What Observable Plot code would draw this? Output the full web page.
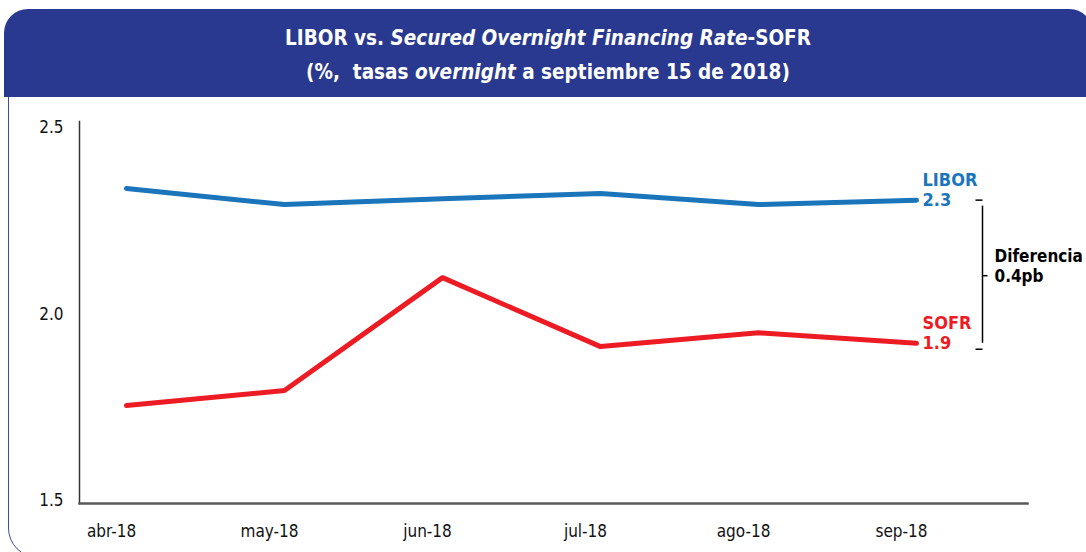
<!DOCTYPE html>
<html><head><meta charset="utf-8">
<script src="https://cdn.jsdelivr.net/npm/d3@7"></script>
<script src="https://cdn.jsdelivr.net/npm/@observablehq/plot@0.6"></script>
<style>
html,body{margin:0;padding:0;background:#fff;}
body{width:1086px;height:552px;overflow:hidden;position:relative;font-family:"DejaVu Sans Condensed","DejaVu Sans",sans-serif;}
#panel{position:absolute;left:8px;top:90px;width:1100px;height:468px;border:1.5px solid #3b4ba1;border-radius:0 0 0 30px;box-sizing:border-box;}
#header{position:absolute;left:4px;top:9px;width:1088px;height:88px;background:#29398f;border-radius:24px 22px 0 0;color:#fff;text-align:center;font-weight:bold;font-size:20.5px;line-height:34px;box-sizing:border-box;padding-top:12px;}
#chart{position:absolute;left:0;top:97px;}
</style></head>
<body>
<div id="panel"></div>
<div id="header">LIBOR vs. <i>Secured Overnight Financing Rate</i>-SOFR<br>(%,&nbsp; tasas <i>overnight</i> a septiembre 15 de 2018)</div>
<div id="chart"></div>
<script>
const months = ["abr-18","may-18","jun-18","jul-18","ago-18","sep-18"];
const libor = [2.345, 2.302, 2.318, 2.332, 2.302, 2.314];
const sofr  = [1.763, 1.803, 2.106, 1.921, 1.958, 1.930];
const seriesNames = ["LIBOR", "SOFR"];
const seriesColors = ["#1b75bb", "#ed1c24"];
const yTicks = [1.5, 2.0, 2.5];

const rows = months.flatMap((m, i) => [
  {month: m, serie: "LIBOR", v: libor[i]},
  {month: m, serie: "SOFR", v: sofr[i]}
]);
const last = months.length - 1;
const lastL = {month: months[last], v: libor[last]};
const lastS = {month: months[last], v: sofr[last]};
const mid = {month: months[last], v: (libor[last] + sofr[last]) / 2, d: libor[last] - sofr[last]};
const f1 = d3.format(".1f");
const font = '"DejaVu Sans Condensed","DejaVu Sans",sans-serif';

const armLeft = {draw(ctx){ ctx.moveTo(0,0); ctx.lineTo(-7,0); }};
const armRight = {draw(ctx){ ctx.moveTo(0,0); ctx.lineTo(5,0); }};

const chart = Plot.plot({
  width: 1086, height: 455,
  marginLeft: 79, marginRight: 59, marginTop: 24, marginBottom: 49,
  style: {fontFamily: font, fontSize: "17px", color: "#111", background: "transparent", overflow: "visible"},
  x: {type: "point", domain: months, range: [125, 916], padding: 0, label: null},
  y: {domain: [1.5, 2.525], label: null},
  color: {domain: seriesNames, range: seriesColors},
  marks: [
    Plot.axisX({tickSize: 0, tickPadding: 21, dx: -15, fontSize: 17, label: null}),
    Plot.axisY({ticks: yTicks, tickFormat: f1, tickSize: 0, tickPadding: 16, dy: -3, fontSize: 17, label: null}),
    Plot.frame({anchor: "left", stroke: "#333", strokeWidth: 1.5}),
    Plot.frame({anchor: "bottom", stroke: "#5a5a5a", strokeWidth: 2.5}),
    Plot.line(rows, {x: "month", y: "v", z: "serie", stroke: "serie", strokeWidth: 5, strokeLinecap: "round", strokeLinejoin: "round"}),
    Plot.text([lastL], {x: "month", y: "v", text: d => `LIBOR\n${f1(d.v)}`, dx: 6, dy: -10.5, textAnchor: "start", lineAnchor: "middle", lineHeight: 1.11, fill: seriesColors[0], fontWeight: "bold", fontSize: 18}),
    Plot.text([lastS], {x: "month", y: "v", text: d => `SOFR\n${f1(d.v)}`, dx: 6, dy: -10.5, textAnchor: "start", lineAnchor: "middle", lineHeight: 1.11, fill: seriesColors[1], fontWeight: "bold", fontSize: 18}),
    Plot.ruleX([mid], {x: "month", y1: sofr[last], y2: libor[last], dx: 66, insetBottom: -6, stroke: "#000", strokeWidth: 1.5}),
    Plot.dot([lastL], {x: "month", y: "v", dx: 66, symbol: armLeft, fill: "none", stroke: "#000", strokeWidth: 1.5}),
    Plot.dot([lastS], {x: "month", y: "v", dx: 66, dy: 6, symbol: armLeft, fill: "none", stroke: "#000", strokeWidth: 1.5}),
    Plot.dot([mid], {x: "month", y: "v", dx: 66, dy: 4, symbol: armRight, fill: "none", stroke: "#000", strokeWidth: 1.5}),
    Plot.text([mid], {x: "month", y: "v", text: d => `Diferencia\n${f1(d.d)}pb`, dx: 78, dy: -6.5, textAnchor: "start", lineAnchor: "middle", lineHeight: 1.2, fill: "#000", fontWeight: "bold", fontSize: 17})
  ]
});
document.getElementById("chart").appendChild(chart);
</script>
</body></html>
